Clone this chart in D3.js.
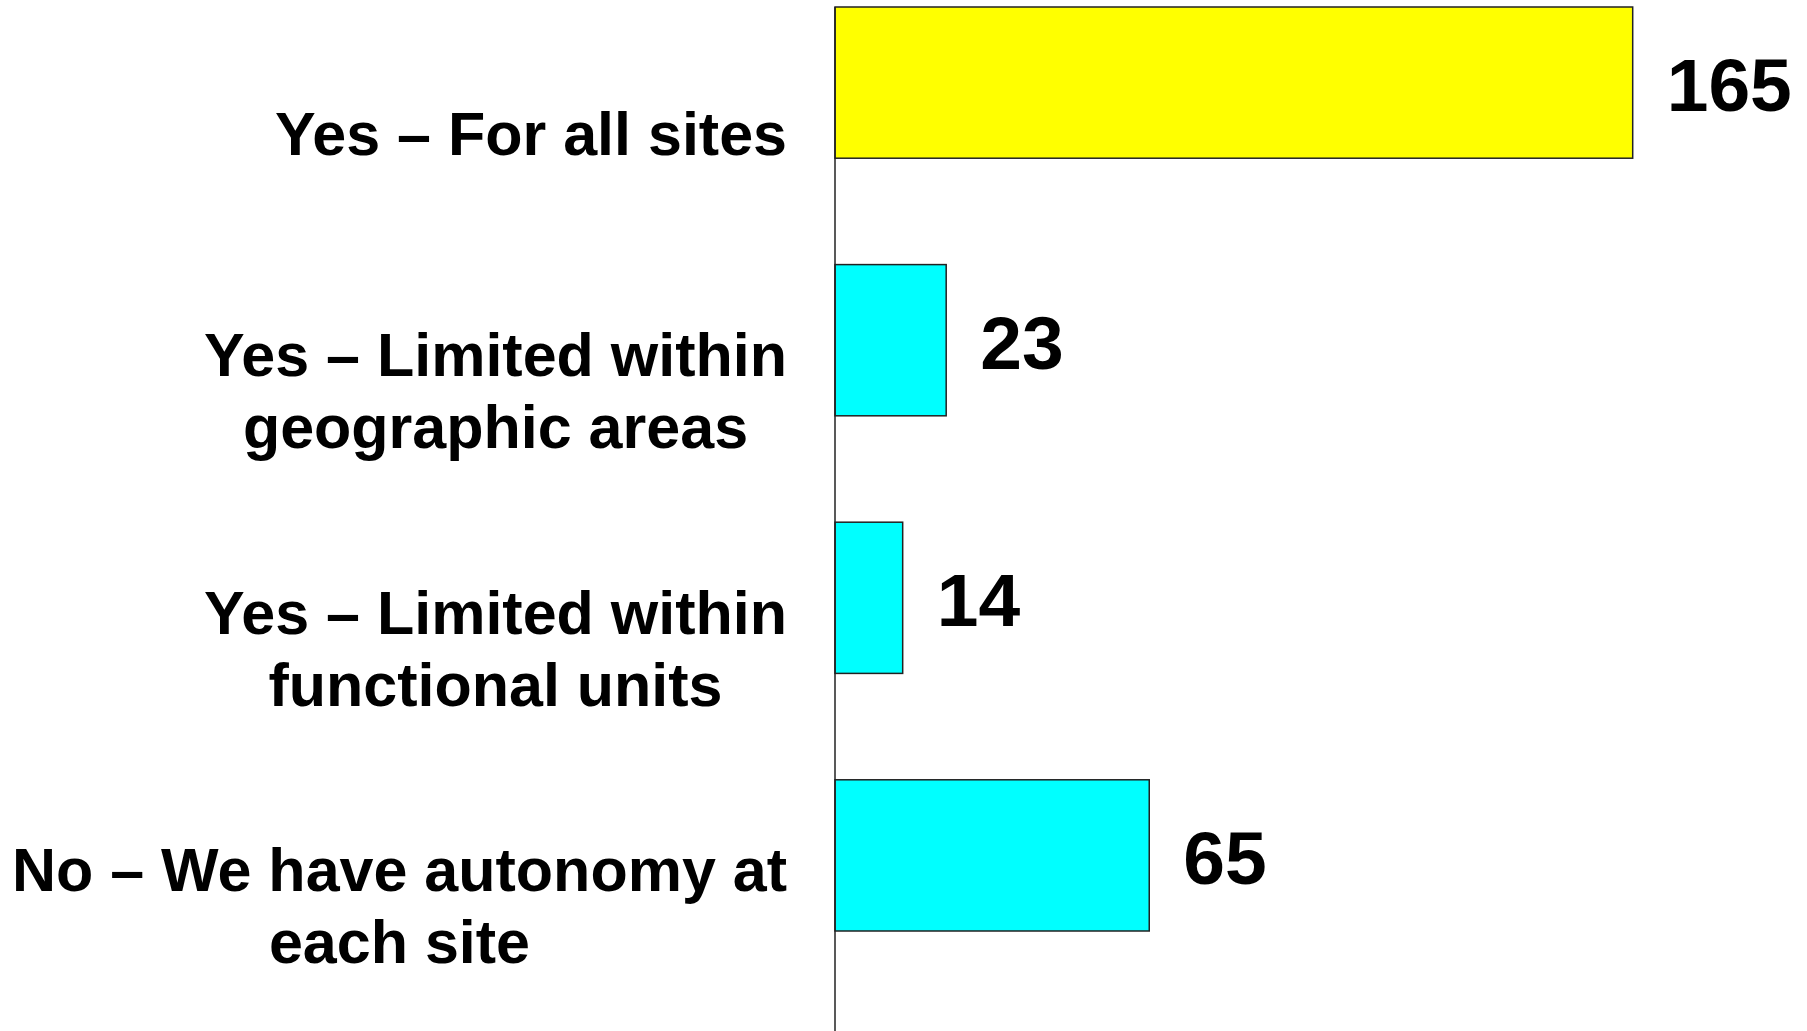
<!DOCTYPE html>
<html>
<head>
<meta charset="utf-8">
<script src="https://cdn.jsdelivr.net/npm/d3@7"></script>
<style>
	body { margin: 0; background: #fff; }
	svg { display: block; }
	text { font-family: "Liberation Sans", Arial, sans-serif; font-weight: bold; fill: #000; }
</style>
</head>
<body>
<svg id="chart" width="1807" height="1031"></svg>
<script>
const categories = [
	["Yes \u2013 For all sites"],
	["Yes \u2013 Limited within", "geographic areas"],
	["Yes \u2013 Limited within", "functional units"],
	["No \u2013 We have autonomy at", "each site"]
];
const values = [165, 23, 14, 65];
const barColors = ["#ffff00", "#00ffff", "#00ffff", "#00ffff"];

const width = 1807, height = 1031;
const svg = d3.select("#chart");

const x = d3.scaleLinear()
	.domain([0, d3.max(values)])
	.range([835, 1632.7]);

const y = d3.scaleBand()
	.domain(d3.range(values.length))
	.range([7, 931])
	.paddingInner(0.413)
	.paddingOuter(0);

const rows = values.map((v, i) => ({ value: v, lines: categories[i], color: barColors[i], i: i }));

// bars
svg.append("g")
	.selectAll("rect")
	.data(rows)
	.enter()
	.append("rect")
	.attr("x", x(0))
	.attr("y", d => y(d.i))
	.attr("width", d => x(d.value) - x(0))
	.attr("height", y.bandwidth())
	.attr("fill", d => d.color)
	.attr("stroke", "#222")
	.attr("stroke-width", 1.5);

// vertical axis line
svg.append("line")
	.attr("x1", x(0)).attr("x2", x(0))
	.attr("y1", y(0)).attr("y2", height)
	.attr("stroke", "#222")
	.attr("stroke-width", 1.5);

// value labels
svg.append("g")
	.selectAll("text")
	.data(rows)
	.enter()
	.append("text")
	.attr("x", d => x(d.value) + 34)
	.attr("y", d => y(d.i) + y.bandwidth() / 2 + 28.5)
	.attr("font-size", 75)
	.text(d => d.value);

// category labels: block right-aligned, lines centred on each other
const labelRight = 787, lineHeight = 72, labelSize = 61;
const labels = svg.append("g")
	.selectAll("text")
	.data(rows)
	.enter()
	.append("text")
	.attr("font-size", labelSize)
	.attr("text-anchor", "middle");

labels.each(function(d) {
	const t = d3.select(this);
	const mid = y(d.i) + y.bandwidth() / 2 + 72;
	const first = mid - (d.lines.length - 1) * lineHeight / 2;
	d.lines.forEach((line, k) => {
		t.append("tspan")
			.attr("y", first + k * lineHeight)
			.text(line);
	});
	let maxW = 0;
	t.selectAll("tspan").each(function() {
		maxW = Math.max(maxW, this.getComputedTextLength());
	});
	t.selectAll("tspan").attr("x", labelRight - maxW / 2);
});
</script>
</body>
</html>
